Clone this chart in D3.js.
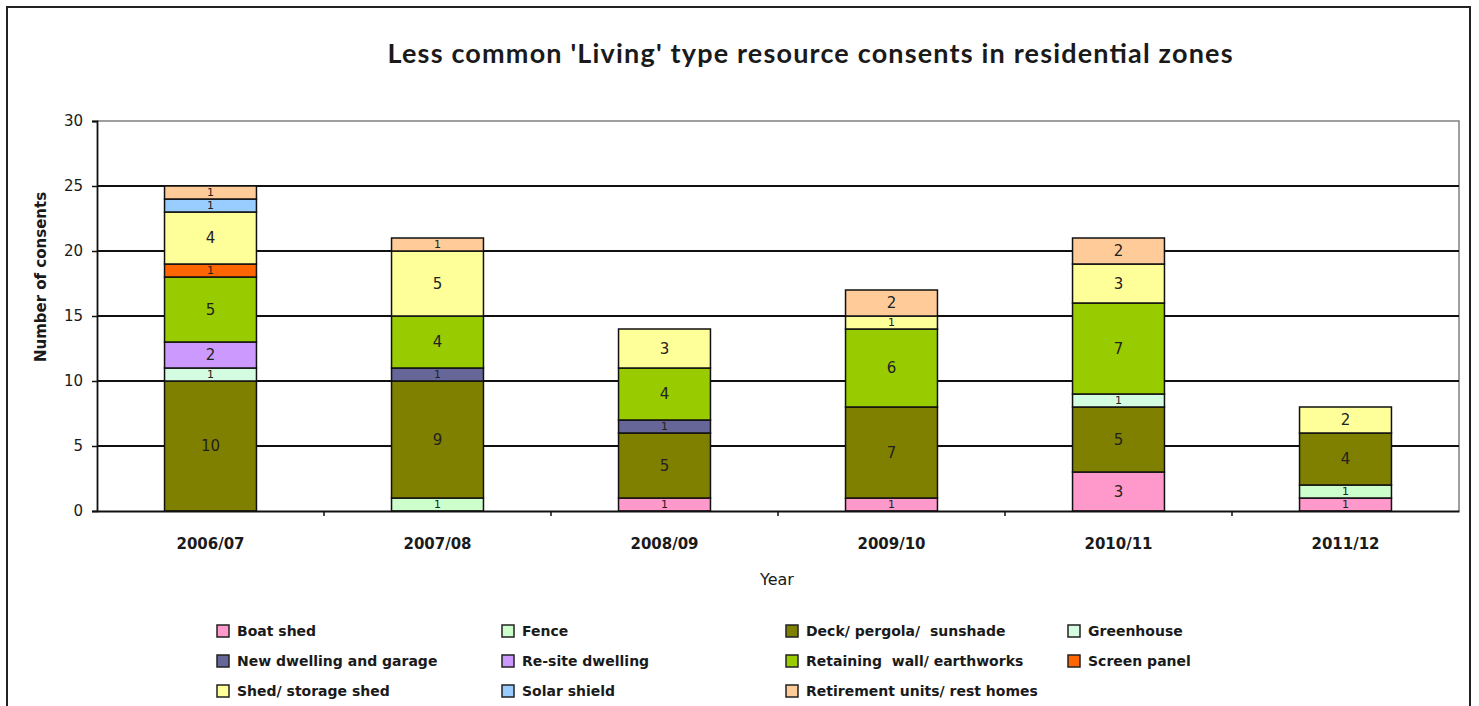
<!DOCTYPE html>
<html>
<head>
<meta charset="utf-8">
<script src="https://cdn.jsdelivr.net/npm/d3@7"></script>
<style>
  html, body { margin: 0; padding: 0; background: #fff; }
  svg { display: block; }
  text { font-family: "DejaVu Sans", Verdana, sans-serif; fill: #1a1a1a; }
</style>
</head>
<body>
<svg id="chart" width="1479" height="706"></svg>
<script>
// Financial years on the category axis
const years = ["2006/07", "2007/08", "2008/09", "2009/10", "2010/11", "2011/12"];

// Consent counts per type, one value per year (stacked bottom to top in this order)
const boatShed    = [0, 0, 1, 1, 3, 1];
const fence       = [0, 1, 0, 0, 0, 1];
const deck        = [10, 9, 5, 7, 5, 4];
const greenhouse  = [1, 0, 0, 0, 1, 0];
const newDwelling = [0, 1, 1, 0, 0, 0];
const resite      = [2, 0, 0, 0, 0, 0];
const retaining   = [5, 4, 4, 6, 7, 0];
const screenPanel = [1, 0, 0, 0, 0, 0];
const shed        = [4, 5, 3, 1, 3, 2];
const solarShield = [1, 0, 0, 0, 0, 0];
const retirement  = [1, 1, 0, 2, 2, 0];

const seriesNames = [
  "Boat shed", "Fence", "Deck/ pergola/  sunshade", "Greenhouse",
  "New dwelling and garage", "Re-site dwelling", "Retaining  wall/ earthworks", "Screen panel",
  "Shed/ storage shed", "Solar shield", "Retirement units/ rest homes"
];
const seriesValues = [boatShed, fence, deck, greenhouse, newDwelling, resite,
                      retaining, screenPanel, shed, solarShield, retirement];
const seriesColors = ["#FF99CC", "#CCFFCC", "#808000", "#D4FCE0", "#666699", "#CC99FF",
                      "#99CC00", "#FF6600", "#FFFF99", "#99CCFF", "#FFCC99"];

const yTicks = [0, 5, 10, 15, 20, 25, 30];

const titleText = "Less common 'Living' type resource consents in residential zones";
const xTitle = "Year";
const yTitle = "Number of consents";

// Build a row-per-year table for d3.stack
const keys = seriesNames.map((_, i) => "s" + i);
const table = years.map((y, j) => {
  const row = { year: y };
  keys.forEach((k, i) => { row[k] = seriesValues[i][j]; });
  return row;
});

const svg = d3.select("#chart");

// Outer chart frame
svg.append("rect")
  .attr("x", 7).attr("y", 7).attr("width", 1463).attr("height", 700)
  .attr("fill", "#fff").attr("stroke", "#222").attr("stroke-width", 2);

const plot = { left: 97, right: 1459, top: 121, bottom: 511 };

const x = d3.scaleBand().domain(years).range([plot.left, plot.right]).padding(0);
const y = d3.scaleLinear().domain([0, 30]).range([plot.bottom, plot.top]);
const barW = x.bandwidth() * 0.405;

// Title
svg.append("text")
  .attr("x", 810).attr("y", 63)
  .attr("text-anchor", "middle")
  .attr("textLength", 845)
  .attr("lengthAdjust", "spacing")
  .style("font-family", "Lato, 'Open Sans', sans-serif")
  .style("font-weight", "bold")
  .style("font-size", "27px")
  .text(titleText);

// Plot border (top and right) in grey
svg.append("path")
  .attr("d", `M${plot.left},${plot.top}H${plot.right}V${plot.bottom}`)
  .attr("fill", "none").attr("stroke", "#808080").attr("stroke-width", 1.5);

// Horizontal gridlines
svg.append("g")
  .selectAll("line")
  .data(yTicks.filter(t => t > 0 && t < 30))
  .join("line")
  .attr("x1", plot.left).attr("x2", plot.right)
  .attr("y1", d => y(d)).attr("y2", d => y(d))
  .attr("stroke", "#111").attr("stroke-width", 1.8);

// Stacked bars
const stacked = d3.stack().keys(keys)(table);
const layers = svg.append("g").selectAll("g")
  .data(stacked)
  .join("g")
  .attr("fill", (d, i) => seriesColors[i]);

layers.selectAll("rect")
  .data(d => d.filter(s => s[1] - s[0] > 0))
  .join("rect")
  .attr("x", d => x(d.data.year) + (x.bandwidth() - barW) / 2)
  .attr("y", d => y(d[1]))
  .attr("width", barW)
  .attr("height", d => y(d[0]) - y(d[1]))
  .attr("stroke", "#111")
  .attr("stroke-width", 1.5);

// Value labels
layers.selectAll("text")
  .data(d => d.filter(s => s[1] - s[0] > 0))
  .join("text")
  .attr("x", d => x(d.data.year) + x.bandwidth() / 2)
  .attr("y", d => (y(d[0]) + y(d[1])) / 2)
  .attr("dy", "0.36em")
  .attr("text-anchor", "middle")
  .style("font-size", d => (d[1] - d[0]) > 1 ? "15px" : "11px")
  .style("fill", "#222")
  .text(d => d[1] - d[0]);

// Y axis
const yAxis = svg.append("g")
  .attr("transform", `translate(${plot.left},0)`)
  .call(d3.axisLeft(y).tickValues(yTicks).tickSize(5).tickPadding(9));
yAxis.select(".domain").attr("stroke", "#111").attr("stroke-width", 1.8);
yAxis.selectAll(".tick line").attr("stroke", "#111").attr("stroke-width", 1.5);
yAxis.selectAll(".tick text")
  .style("font-size", "15px").style("font-family", "'DejaVu Sans', sans-serif").attr("fill", "#333");

// X axis
const xAxis = svg.append("g")
  .attr("transform", `translate(0,${plot.bottom})`)
  .call(d3.axisBottom(x).tickSize(0).tickPadding(38));
xAxis.select(".domain").attr("stroke", "#111").attr("stroke-width", 1.8);
xAxis.selectAll(".tick text")
  .style("font-size", "15px").style("font-weight", "bold")
  .style("font-family", "'DejaVu Sans', sans-serif").attr("fill", "#1a1a1a")
  .attr("dy", "0");

// Tick marks between categories
svg.append("g")
  .selectAll("line")
  .data(years.slice(1))
  .join("line")
  .attr("x1", d => x(d)).attr("x2", d => x(d))
  .attr("y1", plot.bottom).attr("y2", plot.bottom + 5)
  .attr("stroke", "#111").attr("stroke-width", 1.5);

// Axis titles
svg.append("text")
  .attr("x", 777).attr("y", 585)
  .attr("text-anchor", "middle")
  .style("font-size", "16px")
  .text(xTitle);

svg.append("text")
  .attr("transform", "translate(46,277) rotate(-90)")
  .attr("text-anchor", "middle")
  .style("font-size", "15px")
  .style("font-weight", "bold")
  .text(yTitle);

// Legend, four columns in row-major order
const legendColX = [217, 502, 786, 1068];
const legendRowY = [631, 661, 691];
const legend = svg.append("g").selectAll("g")
  .data(seriesNames)
  .join("g")
  .attr("transform", (d, i) => `translate(${legendColX[i % 4]},${legendRowY[Math.floor(i / 4)]})`);

legend.append("rect")
  .attr("x", 0).attr("y", -6).attr("width", 12).attr("height", 12)
  .attr("fill", (d, i) => seriesColors[i])
  .attr("stroke", "#222").attr("stroke-width", 1.5);

legend.append("text")
  .attr("x", 20).attr("y", 0).attr("dy", "0.36em")
  .style("font-size", "14px")
  .style("font-weight", "bold")
  .style("white-space", "pre")
  .attr("xml:space", "preserve")
  .text(d => d);
</script>
</body>
</html>
